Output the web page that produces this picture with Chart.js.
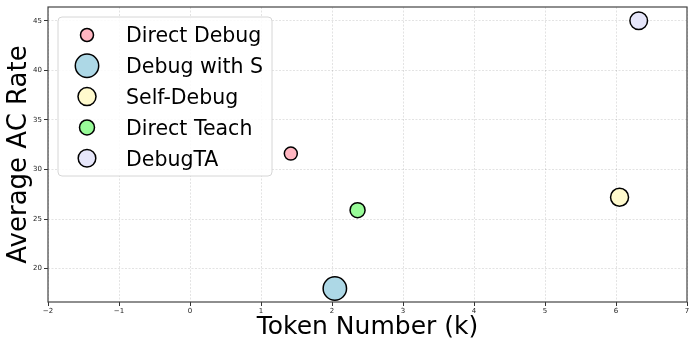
<!DOCTYPE html>
<html>
<head>
<meta charset="utf-8">
<script src="https://cdn.jsdelivr.net/npm/chart.js@4"></script>
<style>
  body { margin: 0; background: #fff; }
  #wrap { width: 698px; height: 349px; }
</style>
</head>
<body>
<div id="wrap"><canvas id="scatter" width="698" height="349"></canvas></div>
<script>
// methods compared
const methods = ["Direct Debug", "Debug with S", "Self-Debug", "Direct Teach", "DebugTA"];
// token number (k) per method
const tokens = [1.42, 2.04, 6.05, 2.36, 6.32];
// average AC rate per method
const acRate = [31.6, 18.0, 27.2, 25.9, 45.0];
// marker size per method
const markerSize = [6.5, 11.7, 9, 7.5, 8.8];
// tick labels
const xTicks = [-2, -1, 0, 1, 2, 3, 4, 5, 6, 7];
const yTicks = [20, 25, 30, 35, 40, 45];

const colors = ['#FFB6C1', '#ADD8E6', '#FFFACD', '#98FB98', '#E6E6FA'];

const FONT = "'DejaVu Sans', sans-serif";

// frame around the plot area (all four spines)
const frame = {
    id: 'frame',
    beforeDatasetsDraw(chart) {
        const a = chart.chartArea, ctx = chart.ctx;
        ctx.save();
        ctx.strokeStyle = '#444';
        ctx.lineWidth = 1.2;
        ctx.strokeRect(a.left, a.top, a.right - a.left, a.bottom - a.top);
        ctx.restore();
    }
};

// matplotlib-like legend box in the upper left corner
const boxLegend = {
    id: 'boxLegend',
    afterDatasetsDraw(chart) {
        const ctx = chart.ctx, a = chart.chartArea;
        const x0 = a.left + 10, y0 = a.top + 10, w = 214, h = 159;
        ctx.save();
        ctx.beginPath();
        ctx.roundRect(x0, y0, w, h, 4);
        ctx.fillStyle = 'rgba(255,255,255,0.85)';
        ctx.fill();
        ctx.strokeStyle = '#d6d6d6';
        ctx.lineWidth = 1;
        ctx.stroke();
        const size = 20.5;
        ctx.font = size + 'px ' + FONT;
        ctx.textBaseline = 'alphabetic';
        ctx.textAlign = 'left';
        chart.data.datasets.forEach((ds, i) => {
            const cy = y0 + 18 + i * 30.8;
            const cx = x0 + 29;
            ctx.beginPath();
            ctx.arc(cx, cy, ds.data[0].r, 0, Math.PI * 2);
            ctx.fillStyle = ds.backgroundColor;
            ctx.fill();
            ctx.lineWidth = ds.borderWidth;
            ctx.strokeStyle = ds.borderColor;
            ctx.stroke();
            ctx.fillStyle = '#000';
            ctx.fillText(ds.label, x0 + 68, cy + 0.36 * size);
        });
        ctx.restore();
    }
};

const minus = v => String(v).replace('-', '\u2212');

// fixed axis sizes, no extra room for edge labels
const noPad = s => { s.paddingTop = 0; s.paddingBottom = 0; s.paddingLeft = 0; s.paddingRight = 0; };

new Chart(document.getElementById('scatter'), {
    type: 'bubble',
    data: {
        datasets: methods.map((m, i) => ({
            label: m,
            data: [{ x: tokens[i], y: acRate[i], r: markerSize[i] }],
            backgroundColor: colors[i],
            borderColor: '#000',
            borderWidth: 1.5
        }))
    },
    options: {
        responsive: false,
        animation: false,
        layout: { autoPadding: false, padding: { top: 7, right: 11, left: 0, bottom: 0 } },
        plugins: {
            legend: { display: false },
            tooltip: { enabled: false }
        },
        scales: {
            x: {
                type: 'linear',
                min: -2,
                max: 7,
                afterBuildTicks: s => { s.ticks = xTicks.map(v => ({ value: v })); },
                afterFit: s => { s.height = 47; noPad(s); },
                title: {
                    display: true,
                    text: 'Token Number (k)',
                    color: '#000',
                    font: { family: FONT, size: 25, lineHeight: 1.2 },
                    padding: { top: 0, bottom: 7 }
                },
                ticks: {
                    color: '#222',
                    font: { family: FONT, size: 7 },
                    padding: 1,
                    maxRotation: 0,
                    callback: v => minus(v)
                },
                grid: {
                    color: 'rgba(0,0,0,0.16)',
                    lineWidth: 0.7,
                    tickLength: 4,
                    tickColor: '#333',
                    tickWidth: 1,
                    tickBorderDash: []
                },
                border: { display: false, dash: [2, 1.5] }
            },
            y: {
                type: 'linear',
                min: 16.64,
                max: 46.38,
                afterBuildTicks: s => { s.ticks = yTicks.map(v => ({ value: v })); },
                afterFit: s => { s.width = 48; noPad(s); },
                title: {
                    display: true,
                    text: 'Average AC Rate',
                    color: '#000',
                    font: { family: FONT, size: 26, lineHeight: 1.2 },
                    padding: { top: 4, bottom: 0 }
                },
                ticks: {
                    color: '#222',
                    font: { family: FONT, size: 7 },
                    padding: 2,
                    callback: v => minus(v)
                },
                grid: {
                    color: 'rgba(0,0,0,0.16)',
                    lineWidth: 0.7,
                    tickLength: 4,
                    tickColor: '#333',
                    tickWidth: 1,
                    tickBorderDash: []
                },
                border: { display: false, dash: [2, 1.5] }
            }
        }
    },
    plugins: [frame, boxLegend]
});
</script>
</body>
</html>
